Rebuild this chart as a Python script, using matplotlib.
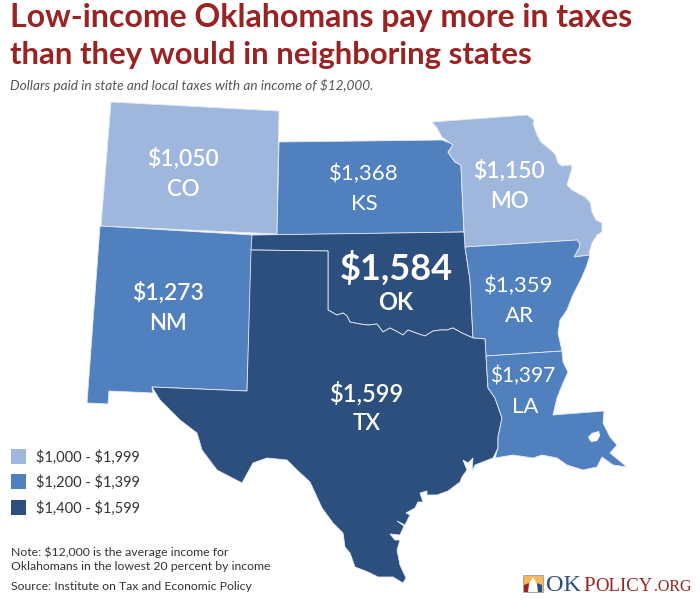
import matplotlib
matplotlib.use('Agg')
import matplotlib.pyplot as plt
from matplotlib.patches import Polygon, Rectangle

# values per state
states = ['CO', 'KS', 'MO', 'NM', 'OK', 'AR', 'TX', 'LA']
taxes = ['$1,050', '$1,368', '$1,150', '$1,273', '$1,584', '$1,359', '$1,599', '$1,397']
tiers = [0, 1, 0, 1, 2, 1, 2, 1]
legend_labels = ['\\$1,000 - \\$1,999', '\\$1,200 - \\$1,399', '\\$1,400 - \\$1,599']
colors = ['#9fb7dc', '#5180bf', '#2d4f7e']

# state outlines, traced in pixels
red_river = [(328, 310), (337, 315), (343, 313), (347, 316), (350, 322), (360, 324), (368, 325), (377, 324),
             (383, 332), (390, 328), (396, 331), (403, 335), (408, 330), (416, 333), (425, 336), (433, 331),
             (440, 330), (447, 330), (453, 328), (462, 333), (473, 338)]
co = [(111, 102), (279, 111), (277, 234), (101, 226)]
ks = [(279, 142), (442, 140), (450, 143), (453, 145), (448, 152), (452, 158), (455, 162), (461, 165),
      (462, 190), (464, 232), (277, 235)]
mo = [(432, 122), (527, 115), (534, 120), (533, 124), (537, 135), (541, 142), (553, 152), (556, 156),
      (558, 163), (562, 166), (571, 165), (572, 168), (569, 178), (567, 185), (572, 190), (585, 197),
      (590, 202), (592, 212), (596, 220), (602, 223), (602, 232), (597, 235), (592, 243), (590, 250),
      (589, 255), (574, 257), (579, 248), (580, 244), (577, 240), (465, 247), (464, 232), (461, 165),
      (455, 162), (452, 158), (448, 152), (453, 145), (450, 143), (442, 137), (437, 128)]
nm = [(100, 226), (253, 235), (252, 250), (247, 391), (152, 387), (153, 393), (109, 391), (108, 404), (87, 403)]
ok = [(252, 235), (464, 232), (465, 247), (470, 280), (473, 338)] + red_river[::-1] + [(328, 251), (251, 250)]
ar = [(465, 247), (577, 240), (580, 244), (579, 248), (574, 257), (590, 255), (587, 265), (582, 277),
      (577, 287), (572, 297), (567, 310), (560, 320), (558, 333), (560, 342), (562, 351),
      (486, 356), (485, 339), (473, 338), (470, 280)]
tx = [(251, 250), (328, 251)] + red_river + [(485, 339), (486, 356), (488, 388), (495, 398), (502, 418),
      (498, 437), (498, 448), (493, 458), (475, 465), (472, 471), (473, 458), (468, 463), (463, 460),
      (467, 470), (462, 477), (460, 482), (448, 491), (437, 495), (427, 495), (427, 491), (420, 493),
      (423, 502), (418, 502), (415, 508), (406, 513), (410, 515), (405, 525), (397, 521), (404, 526),
      (400, 535), (390, 534), (395, 540), (400, 540), (397, 550), (400, 565), (406, 578), (403, 583),
      (393, 577), (378, 577), (368, 572), (355, 567), (350, 553), (345, 547), (343, 533), (333, 523),
      (322, 508), (310, 482), (297, 470), (287, 460), (267, 458), (253, 463), (242, 483), (217, 470),
      (202, 450), (197, 433), (180, 420), (160, 400), (152, 387), (247, 391)]
la = [(486, 356), (562, 351), (563, 362), (568, 372), (563, 383), (557, 398), (553, 415), (604, 411),
      (603, 423), (610, 437), (617, 445), (610, 453), (627, 467), (613, 465), (602, 457), (597, 467),
      (583, 470), (567, 465), (557, 458), (542, 455), (533, 458), (513, 455), (495, 458), (498, 448),
      (498, 437), (502, 418), (495, 398), (488, 388)]
lake = [(588, 437), (592, 433), (599, 431), (600, 436), (597, 441), (591, 442)]
outlines = [co, ks, mo, nm, ok, ar, tx, la]

# label centres in pixels, value line then state line
value_xy = [(183, 159), (364, 174), (509, 171), (168, 293), (396, 268), (519, 286), (367, 393), (523, 376)]
state_xy = [(183, 189), (364, 204), (509, 201), (168, 323), (396, 302), (519, 316), (367, 423), (525, 407)]
weights = ['semibold', 'normal', 'semibold', 'semibold', 'bold', 'normal', 'semibold', 'normal']
sizes = [16.5, 16, 16.5, 16.5, 26, 16, 17, 15]
state_sizes = [16, 16, 16, 16, 17, 16, 16, 16]

plt.rcParams['font.family'] = ['Lato', 'DejaVu Sans']

fig = plt.figure(figsize=(7, 6), dpi=100)
ax = fig.add_axes([0, 0, 1, 1])
ax.set_xlim(0, 700)
ax.set_ylim(600, 0)
ax.axis('off')

for i in range(len(states)):
    ax.add_patch(Polygon(outlines[i], closed=True, facecolor=colors[tiers[i]], edgecolor='#e4eaf4', linewidth=0.6))
    ax.text(value_xy[i][0], value_xy[i][1], taxes[i], color='white', fontsize=sizes[i], fontweight=weights[i],
            ha='center', va='center')
    ax.text(state_xy[i][0], state_xy[i][1], states[i], color='white', fontsize=state_sizes[i],
            fontweight=weights[i], ha='center', va='center')
ax.add_patch(Polygon(lake, closed=True, facecolor='white', edgecolor='none'))

ax.text(10, 27, 'Low-income Oklahomans pay more in taxes', color='#9a2222', fontsize=23, fontweight='bold',
        ha='left', va='baseline')
ax.text(10, 64, 'than they would in neighboring states', color='#9a2222', fontsize=22.4, fontweight='bold',
        ha='left', va='baseline')
ax.text(10, 85, 'Dollars paid in state and local taxes with an income of $12,000.', color='#555555',
        fontsize=9.8, style='italic', ha='left', va='center')

legend_y = [449, 474, 500]
for i in range(3):
    ax.add_patch(Rectangle((11, legend_y[i]), 15, 15, facecolor=colors[i], edgecolor='none'))
    ax.text(36, legend_y[i] + 8, legend_labels[i], color='#333333', fontsize=10.5, ha='left', va='center')

ax.text(11, 552, 'Note: $12,000 is the average income for', color='#333333', fontsize=8.8, ha='left', va='center')
ax.text(11, 567, 'Oklahomans in the lowest 20 percent by income', color='#333333', fontsize=8.8, ha='left', va='center')
ax.text(11, 586, 'Source: Institute on Tax and Economic Policy', color='#333333', fontsize=8.8, ha='left', va='center')

# logo
ax.add_patch(Rectangle((523, 575), 20, 17, facecolor='#f9b85a', edgecolor='#a9a9a9', linewidth=0.8))
ax.add_patch(Polygon([(524, 592), (524, 585), (529, 583), (529, 592)], closed=True, facecolor='#9a2222'))
ax.add_patch(Polygon([(537, 592), (537, 583), (542, 585), (542, 592)], closed=True, facecolor='#2d4f7e'))
ax.add_patch(Polygon([(528, 592), (529, 584), (533, 577), (537, 584), (538, 592)], closed=True, facecolor='white'))
ax.text(546, 591, 'OK', color='#2d4f7e', family='Liberation Serif', fontsize=17.5, ha='left', va='baseline')
ax.text(583, 591, 'P', color='#9a2222', family='Liberation Serif', fontsize=15, ha='left', va='baseline')
ax.text(595, 591, 'OLICY', color='#9a2222', family='Liberation Serif', fontsize=13.5, ha='left', va='baseline')
ax.text(654, 591, '.ORG', color='#9a2222', family='Liberation Serif', fontsize=11.5, ha='left', va='baseline')

fig.savefig('out.png', dpi=100)
